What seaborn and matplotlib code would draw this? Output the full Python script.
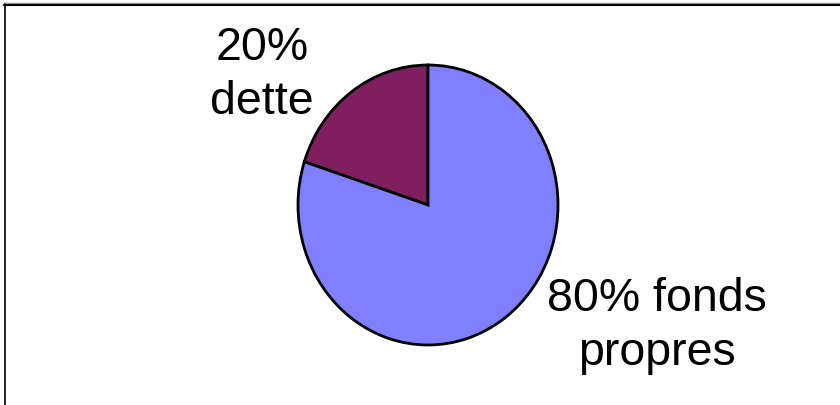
import matplotlib
matplotlib.use("Agg")
import matplotlib.pyplot as plt
from matplotlib.lines import Line2D
import seaborn as sns

# Data
categories = ["dette", "fonds propres"]
shares = [20, 80]
labels = ["20%\ndette", "80% fonds\npropres"]
colors = ["#7F1F5F", "#8080FF"]

sns.set_theme(style="white")
plt.rcParams["font.family"] = ["Liberation Sans", "DejaVu Sans"]

W, H = 840, 405
fig = plt.figure(figsize=(W / 100, H / 100), dpi=100)
fig.patch.set_facecolor("white")
ax = fig.add_axes([0, 0, 1, 1])

pal = sns.color_palette(colors)
ax.pie(shares, colors=pal, startangle=90, counterclock=True,
       wedgeprops=dict(edgecolor="black", linewidth=2))
ax.set_aspect("auto")

# place pie: center at pixel (428, 205 from top), radii 130 x 140 px
cx, cy, rx, ry = 428, 405 - 205, 130, 140
ax.set_xlim(-cx / rx, (W - cx) / rx)
ax.set_ylim(-cy / ry, (H - cy) / ry)
ax.axis("off")

fig.text(262 / W, 1 - 75 / H, labels[0], ha="center", va="center",
         fontsize=33.5, linespacing=1.3, color="black")
fig.text(657 / W, 1 - 326 / H, labels[1], ha="center", va="center",
         fontsize=33.5, linespacing=1.3, color="black")

# frame (top and left edges)
fig.add_artist(Line2D([4 / W, 1], [1 - 3 / H, 1 - 3 / H], color="#999999", lw=1))
fig.add_artist(Line2D([4 / W, 1], [1 - 5 / H, 1 - 5 / H], color="black", lw=1.5))
fig.add_artist(Line2D([4.5 / W, 4.5 / W], [0, 1 - 4 / H], color="black", lw=1.2))

fig.savefig("out.png", dpi=100, facecolor="white")
